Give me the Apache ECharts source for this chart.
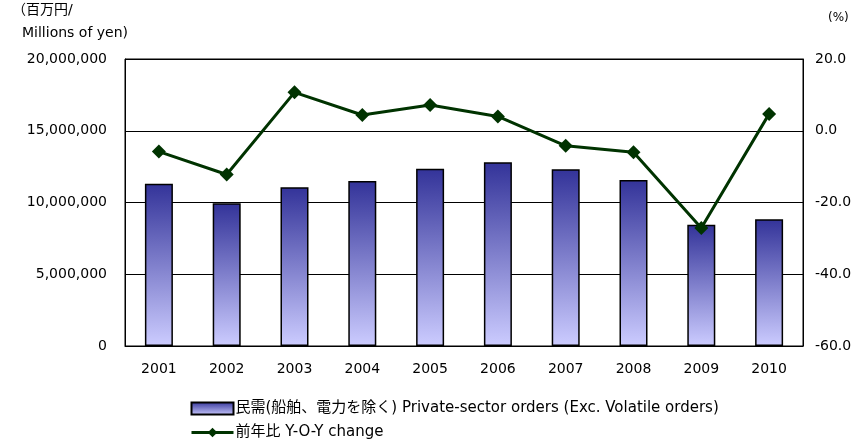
<!DOCTYPE html>
<html>
<head>
<meta charset="UTF-8">
<title>Private-sector orders</title>
<script src="https://cdn.jsdelivr.net/npm/echarts@6/dist/echarts.min.js"></script>
<style>
  *{margin:0;padding:0;}
  body{background:#fff;}
  #main{width:859px;height:443px;}
</style>
</head>
<body>
<div id="main"></div>
<script>
// data
var years = ['2001','2002','2003','2004','2005','2006','2007','2008','2009','2010'];
var orders = [11310000, 9940000, 11060000, 11500000, 12360000, 12800000, 12310000, 11570000, 8450000, 8830000];
var yoy = [-5.8, -12.2, 10.7, 4.4, 7.2, 4.0, -4.2, -6.0, -27.1, 4.7];
var leftTicks = [0, 20000000, 5000000];   // min, max, interval
var rightTicks = [-60, 20, 20];

var barName = '民需(船舶、電力を除く) Private-sector orders (Exc. Volatile orders)';
var lineName = '前年比 Y-O-Y change';
var font = '"DejaVu Sans", "Noto Sans CJK JP", sans-serif';

var myChart = echarts.init(document.getElementById('main'));

var option = {
    animation: false,
    textStyle: {fontFamily: font, color: '#000'},
    grid: {
        left: 125, right: 56, top: 59, height: 287,
        show: true, borderColor: '#000', borderWidth: 1
    },
    graphic: [
        {type: 'text', left: 12, top: 3, style: {text: '（百万円/', font: '14px ' + font, fill: '#000'}},
        {type: 'text', left: 22, top: 26, style: {text: 'Millions of yen)', font: '14px ' + font, fill: '#000'}},
        {type: 'text', left: 828, top: 12, style: {text: '(%)', font: '12px ' + font, fill: '#000'}}
    ],
    legend: {
        orient: 'vertical',
        left: 190, top: 401,
        padding: 0,
        height: 60,
        itemGap: 9,
        itemWidth: 42, itemHeight: 12,
        textStyle: {fontSize: 15, fontFamily: font, color: '#000', padding: [0, 0, 0, -3]},
        data: [
            {name: barName, icon: 'rect'},
            {name: lineName, lineStyle: {width: 3, color: '#003300'}}
        ]
    },
    xAxis: {
        type: 'category',
        data: years,
        axisLine: {lineStyle: {color: '#000'}},
        axisTick: {inside: true, length: 5, lineStyle: {color: '#000'}},
        axisLabel: {fontSize: 14, color: '#000', margin: 16}
    },
    yAxis: [
        {
            type: 'value',
            min: leftTicks[0], max: leftTicks[1], interval: leftTicks[2],
            axisLine: {show: true, lineStyle: {color: '#000'}},
            axisTick: {show: true, inside: true, length: 5, lineStyle: {color: '#000'}},
            splitLine: {lineStyle: {color: '#000', width: 1}},
            axisLabel: {
                fontSize: 14, color: '#000', margin: 18,
                formatter: function (v) { return v.toString().replace(/\B(?=(\d{3})+(?!\d))/g, ','); }
            }
        },
        {
            type: 'value',
            min: rightTicks[0], max: rightTicks[1], interval: rightTicks[2],
            position: 'right',
            axisLine: {show: true, lineStyle: {color: '#000'}},
            axisTick: {show: true, inside: true, length: 5, lineStyle: {color: '#000'}},
            splitLine: {show: false},
            axisLabel: {
                fontSize: 14, color: '#000', margin: 12,
                formatter: function (v) { return v.toFixed(1); }
            }
        }
    ],
    series: [
        {
            name: barName,
            type: 'bar',
            data: orders,
            barWidth: 28,
            itemStyle: {
                borderColor: '#000', borderWidth: 1.5,
                color: new echarts.graphic.LinearGradient(0, 0, 0, 1, [
                    {offset: 0, color: '#333399'},
                    {offset: 1, color: '#ccccff'}
                ])
            }
        },
        {
            name: lineName,
            type: 'line',
            yAxisIndex: 1,
            data: yoy,
            symbol: 'diamond',
            symbolSize: 14,
            lineStyle: {color: '#003300', width: 3},
            itemStyle: {color: '#003300'}
        }
    ]
};

myChart.setOption(option);
</script>
</body>
</html>
